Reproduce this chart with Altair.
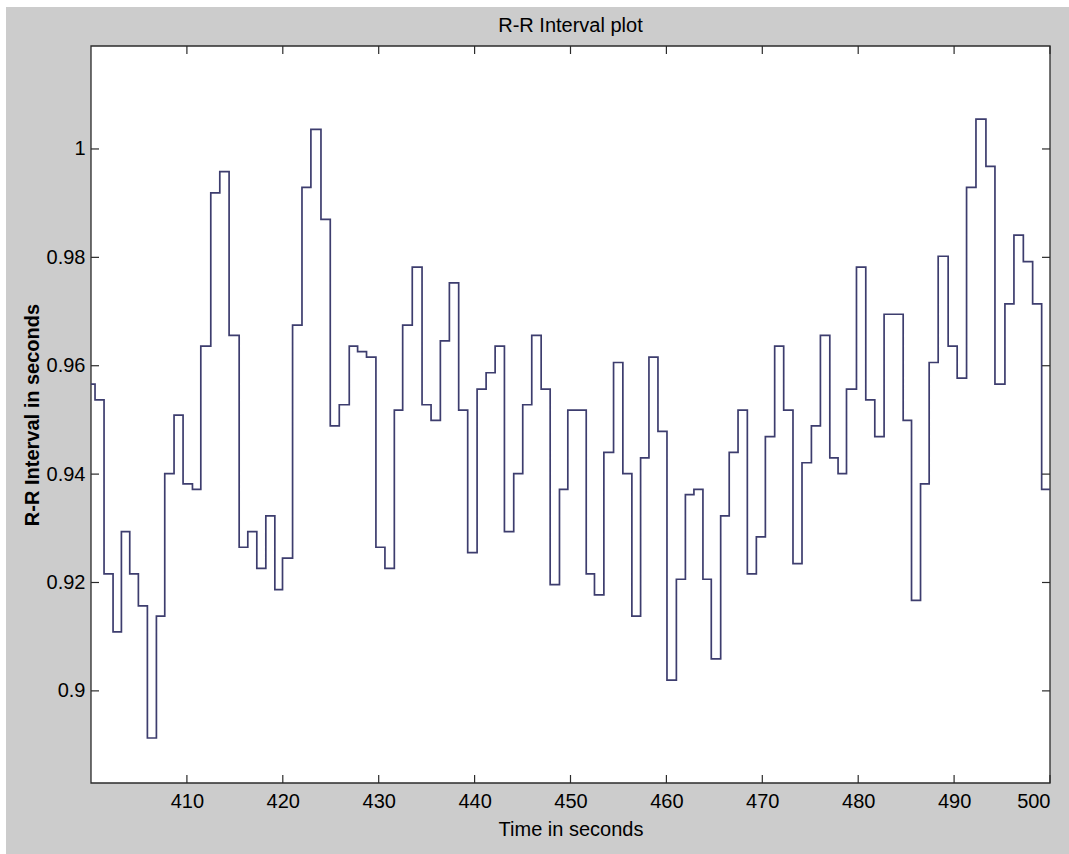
import altair as alt
import pandas as pd

# Beat times (s) and R-R interval values (s)
times = [400.0, 400.42, 401.36, 402.3, 403.17, 404.04, 404.94, 405.88, 406.82, 407.69,
         408.66, 409.6, 410.58, 411.45, 412.49, 413.43, 414.4, 415.45, 416.35, 417.29,
         418.23, 419.17, 419.97, 421.02, 422.0, 422.93, 423.98, 424.95, 425.89, 426.93,
         427.8, 428.73, 429.71, 430.65, 431.63, 432.5, 433.5, 434.52, 435.46, 436.43,
         437.37, 438.34, 439.28, 440.26, 441.2, 442.14, 443.11, 444.08, 445.02, 445.96,
         446.94, 447.88, 448.85, 449.72, 450.68, 451.64, 452.5, 453.48, 454.49, 455.46,
         456.4, 457.31, 458.18, 459.12, 460.06, 461.04, 461.98, 462.87, 463.81, 464.68,
         465.66, 466.55, 467.47, 468.44, 469.38, 470.32, 471.29, 472.23, 473.2, 474.14,
         475.12, 476.06, 477.04, 477.9, 478.78, 479.82, 480.79, 481.73, 482.7, 483.7,
         484.69, 485.56, 486.5, 487.4, 488.34, 489.38, 490.32, 491.3, 492.28, 493.32,
         494.26, 495.3, 496.24, 497.22, 498.19, 499.13, 500.0]
rr = [0.9566, 0.9537, 0.9216, 0.9109, 0.9294, 0.9216, 0.9157, 0.8913, 0.9138, 0.9401,
      0.9509, 0.9382, 0.9372, 0.9636, 0.9919, 0.9958, 0.9656, 0.9265, 0.9294, 0.9226,
      0.9323, 0.9187, 0.9245, 0.9675, 0.9929, 1.0036, 0.9870, 0.9489, 0.9528, 0.9636,
      0.9626, 0.9616, 0.9265, 0.9226, 0.9518, 0.9675, 0.9782, 0.9528, 0.9499, 0.9646,
      0.9753, 0.9518, 0.9255, 0.9557, 0.9587, 0.9636, 0.9294, 0.9401, 0.9528, 0.9656,
      0.9557, 0.9196, 0.9372, 0.9518, 0.9518, 0.9216, 0.9177, 0.9440, 0.9606, 0.9401,
      0.9138, 0.9430, 0.9616, 0.9479, 0.9020, 0.9206, 0.9362, 0.9372, 0.9206, 0.9059,
      0.9323, 0.9440, 0.9518, 0.9216, 0.9284, 0.9469, 0.9636, 0.9518, 0.9235, 0.9421,
      0.9489, 0.9656, 0.9430, 0.9401, 0.9557, 0.9782, 0.9537, 0.9469, 0.9695, 0.9695,
      0.9499, 0.9167, 0.9382, 0.9606, 0.9802, 0.9636, 0.9577, 0.9929, 1.0055, 0.9968,
      0.9566, 0.9714, 0.9841, 0.9792, 0.9714, 0.9372, 0.9372]

x_ticks = [410, 420, 430, 440, 450, 460, 470, 480, 490, 500]
y_ticks = [0.90, 0.92, 0.94, 0.96, 0.98, 1.00]
title_text = "R-R Interval plot"

W, H = 959, 737
FONT = "Liberation Sans"
FRAME = "#2b2b2b"

df = pd.DataFrame({"t": times, "rr": rr})
xt = pd.DataFrame({"v": x_ticks})
yt = pd.DataFrame({"v": y_ticks})
one = pd.DataFrame({"k": [0]})

xscale = alt.Scale(domain=[400, 500], nice=False, zero=False)
yscale = alt.Scale(domain=[0.883, 1.019], nice=False, zero=False)

xaxis = alt.Axis(values=x_ticks, format="d", ticks=False, domain=False, grid=False,
                 labelFont=FONT, labelFontSize=20, labelColor="black", labelPadding=8,
                 title="Time in seconds", titleFont=FONT, titleFontSize=20,
                 titleFontWeight="normal", titleColor="black", titleY=52,
                 titleBaseline="alphabetic", zindex=1)
yaxis = alt.Axis(values=y_ticks, format="~g", ticks=False, domain=False, grid=False,
                 labelFont=FONT, labelFontSize=20, labelColor="black", labelPadding=6,
                 title="R-R Interval in seconds", titleFont=FONT, titleFontSize=20,
                 titleFontWeight="bold", titleColor="black", titleX=-53,
                 titleBaseline="alphabetic", zindex=1)

gray = alt.Chart(one).mark_rect(fill="#cccccc").encode(
    x=alt.value(-85), x2=alt.value(W + 19), y=alt.value(-39), y2=alt.value(H + 71))
plotbg = alt.Chart(one).mark_rect(fill="white", stroke=FRAME, strokeWidth=1.3).encode(
    x=alt.value(0), x2=alt.value(W), y=alt.value(0), y2=alt.value(H))

title = alt.Chart(one).mark_text(font=FONT, fontSize=20, color="black",
                                 align="center", baseline="alphabetic").encode(
    x=alt.value(W / 2), y=alt.value(-14), text=alt.value(title_text))

line = alt.Chart(df).mark_line(interpolate="step-after", color="#3d3d6e",
                               strokeWidth=1.7).encode(
    x=alt.X("t:Q", scale=xscale, axis=xaxis),
    y=alt.Y("rr:Q", scale=yscale, axis=yaxis))

tk = dict(color=FRAME, strokeWidth=1.2)
xt_bot = alt.Chart(xt).mark_rule(**tk).encode(
    x=alt.X("v:Q", scale=xscale), y=alt.value(H - 8), y2=alt.value(H))
xt_top = alt.Chart(xt).mark_rule(**tk).encode(
    x=alt.X("v:Q", scale=xscale), y=alt.value(0), y2=alt.value(8))
yt_left = alt.Chart(yt).mark_rule(**tk).encode(
    y=alt.Y("v:Q", scale=yscale), x=alt.value(0), x2=alt.value(8))
yt_right = alt.Chart(yt).mark_rule(**tk).encode(
    y=alt.Y("v:Q", scale=yscale), x=alt.value(W - 8), x2=alt.value(W))

chart = alt.layer(gray, plotbg, title, line, xt_bot, xt_top, yt_left, yt_right).properties(
    width=W, height=H,
    padding={"left": 91, "top": 46, "right": 19, "bottom": 71},
    autosize=alt.AutoSizeParams(type="none"),
    background="white",
).configure_view(stroke=None)

chart.save("out.html", embed_options={"renderer": "svg", "actions": False})
